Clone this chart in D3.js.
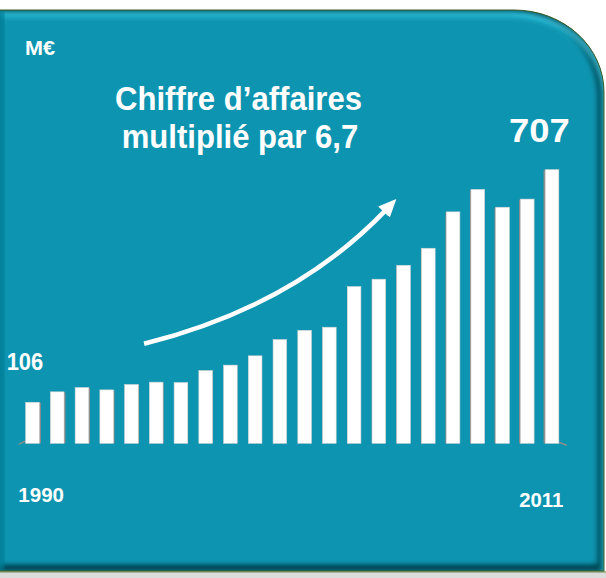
<!DOCTYPE html>
<html>
<head>
<meta charset="utf-8">
<script src="https://d3js.org/d3.v7.min.js"></script>
<style>
	body { margin: 0; background: #fff; }
	svg { display: block; }
	text { font-family: "Liberation Sans", Arial, sans-serif; font-weight: bold; fill: #fff; }
</style>
</head>
<body>
<div id="chart"></div>
<script>
	// chiffre d'affaires, M€
	var years = [1990, 1991, 1992, 1993, 1994, 1995, 1996, 1997, 1998, 1999, 2000,
		2001, 2002, 2003, 2004, 2005, 2006, 2007, 2008, 2009, 2010, 2011];
	var values = [106, 133, 144, 138, 152, 158, 157, 188, 202, 226, 268,
		292, 300, 405, 424, 460, 504, 598, 656, 610, 631, 707];
	var unitLabel = "M€";
	var titleLines = ["Chiffre d’affaires", "multiplié par 6,7"];
	// arrow annotation in data space: [bar index, value]
	var arrowPts = [[4.51, 257], [10.57, 354], [14.29, 603]];

	var W = 606, H = 578;
	var svg = d3.select("#chart").append("svg")
		.attr("width", W)
		.attr("height", H);

	var defs = svg.append("defs");

	// panel with one rounded corner
	var panel = "M-10,10 H514 A90,82 0 0 1 604,92 V571 H-10 Z";

	defs.append("clipPath").attr("id", "clip")
		.append("path").attr("d", panel);
	defs.append("filter").attr("id", "blur")
		.attr("x", "-10%").attr("y", "-10%").attr("width", "120%").attr("height", "120%")
		.append("feGaussianBlur").attr("stdDeviation", 3);
	defs.append("marker").attr("id", "head")
		.attr("markerUnits", "userSpaceOnUse")
		.attr("viewBox", "0 0 18 16")
		.attr("refX", 3).attr("refY", 8)
		.attr("markerWidth", 18).attr("markerHeight", 16)
		.attr("orient", "auto")
		.append("path").attr("d", "M0,0 L18,8 L0,16 Z").attr("fill", "#fff");

	// bottom strip under the panel
	svg.append("rect").attr("x", 0).attr("y", 571).attr("width", W).attr("height", 7).attr("fill", "#dcdcdc");
	svg.append("line").attr("x1", 0).attr("x2", W).attr("y1", 572).attr("y2", 572)
		.attr("stroke", "#6f8a4a").attr("stroke-width", 1);

	svg.append("path").attr("d", panel).attr("fill", "#0794b0");

	var bevel = svg.append("g").attr("clip-path", "url(#clip)");
	// dark inner edge right / bottom
	bevel.append("path").attr("d", panel)
		.attr("fill", "none").attr("stroke", "#053d48").attr("stroke-width", 12)
		.attr("transform", "translate(-6,-5)").attr("filter", "url(#blur)");
	// light edge on top
	bevel.append("path").attr("d", panel)
		.attr("fill", "none").attr("stroke", "#45cde6").attr("stroke-width", 8)
		.attr("opacity", 0.8)
		.attr("transform", "translate(3,7)").attr("filter", "url(#blur)");
	// cover the inner area again so bevels only show at the edges
	bevel.append("path").attr("d", panel)
		.attr("fill", "#0794b0").attr("filter", "url(#blur)")
		.attr("transform", "translate(-2,2) scale(0.985,0.975) translate(5,6)");
	// left edge slightly darker
	bevel.append("rect").attr("x", -4).attr("y", 10).attr("width", 8).attr("height", 561)
		.attr("fill", "#057c93").attr("filter", "url(#blur)");

	svg.append("path").attr("d", panel)
		.attr("fill", "none").attr("stroke", "#3f5c22").attr("stroke-width", 1);

	// scales
	var x = d3.scaleBand()
		.domain(years)
		.range([20.1, 564.4])
		.paddingInner(0.45)
		.paddingOuter(0.225);
	var y = d3.scaleLinear()
		.domain([0, d3.max(values)])
		.range([443.3, 169.7]);
	var xi = d3.scaleLinear()
		.domain([0, years.length - 1])
		.range([x(years[0]) + x.bandwidth() / 2, x(years[years.length - 1]) + x.bandwidth() / 2]);

	var data = years.map(function(yr, i) { return {year: yr, value: values[i], i: i}; });
	var mid = (years.length - 1) / 2;
	var side = function(d) { return (mid - d.i) / mid * 2.2; };

	// floor edges
	svg.append("line")
		.attr("x1", x(years[0]) - 7).attr("y1", y(0) + 1)
		.attr("x2", x(years[0])).attr("y2", y(0) - 2.5)
		.attr("stroke", "#8d8d8d").attr("stroke-width", 1.5);
	svg.append("line")
		.attr("x1", x(years[years.length - 1]) + x.bandwidth()).attr("y1", y(0) - 1)
		.attr("x2", x(years[years.length - 1]) + x.bandwidth() + 8).attr("y2", y(0) + 2)
		.attr("stroke", "#8d8d8d").attr("stroke-width", 1.5);

	var bars = svg.append("g").selectAll("g")
		.data(data)
		.enter().append("g");

	bars.append("rect")
		.attr("x", function(d) { var s = side(d); return s > 0 ? x(d.year) + x.bandwidth() - 0.5 : x(d.year) + s + 0.5; })
		.attr("y", function(d) { return y(d.value) + 0.5; })
		.attr("width", function(d) { return Math.abs(side(d)); })
		.attr("height", function(d) { return y(0) - y(d.value) - 0.5; })
		.attr("fill", "#8a8a8a");

	bars.append("rect")
		.attr("x", function(d) { return x(d.year); })
		.attr("y", function(d) { return y(d.value); })
		.attr("width", x.bandwidth())
		.attr("height", function(d) { return y(0) - y(d.value); })
		.attr("fill", "#fff")
		.attr("stroke", "#d4d4d4")
		.attr("stroke-width", 0.6);

	// growth arrow
	var ap = arrowPts.map(function(p) { return [xi(p[0]), y(p[1])]; });
	svg.append("path")
		.attr("d", "M" + ap[0] + " Q" + ap[1] + " " + ap[2])
		.attr("fill", "none")
		.attr("stroke", "#fff")
		.attr("stroke-width", 4.6)
		.attr("marker-end", "url(#head)");

	// texts
	svg.append("text").attr("x", 25).attr("y", 55)
		.attr("font-size", 21).attr("textLength", 30).attr("lengthAdjust", "spacingAndGlyphs")
		.text(unitLabel);

	svg.append("text").attr("x", 115).attr("y", 110)
		.attr("font-size", 34).attr("textLength", 247).attr("lengthAdjust", "spacingAndGlyphs")
		.text(titleLines[0]);
	svg.append("text").attr("x", 121.7).attr("y", 147.5)
		.attr("font-size", 34).attr("textLength", 236.6).attr("lengthAdjust", "spacingAndGlyphs")
		.text(titleLines[1]);

	var first = data[0], last = data[data.length - 1];
	svg.append("text")
		.attr("x", x(first.year) - 19).attr("y", y(first.value) - 32.5)
		.attr("font-size", 23).attr("textLength", 36.6).attr("lengthAdjust", "spacingAndGlyphs")
		.text(first.value);
	svg.append("text")
		.attr("x", x(last.year) - 36.3).attr("y", y(last.value) - 27.5)
		.attr("font-size", 33).attr("textLength", 60.7).attr("lengthAdjust", "spacingAndGlyphs")
		.text(last.value);

	svg.append("text").attr("x", 18.3).attr("y", 502)
		.attr("font-size", 21).attr("textLength", 45.7).attr("lengthAdjust", "spacingAndGlyphs")
		.text(first.year);
	svg.append("text").attr("x", 519.3).attr("y", 507)
		.attr("font-size", 21).attr("textLength", 44).attr("lengthAdjust", "spacingAndGlyphs")
		.text(last.year);
</script>
</body>
</html>
